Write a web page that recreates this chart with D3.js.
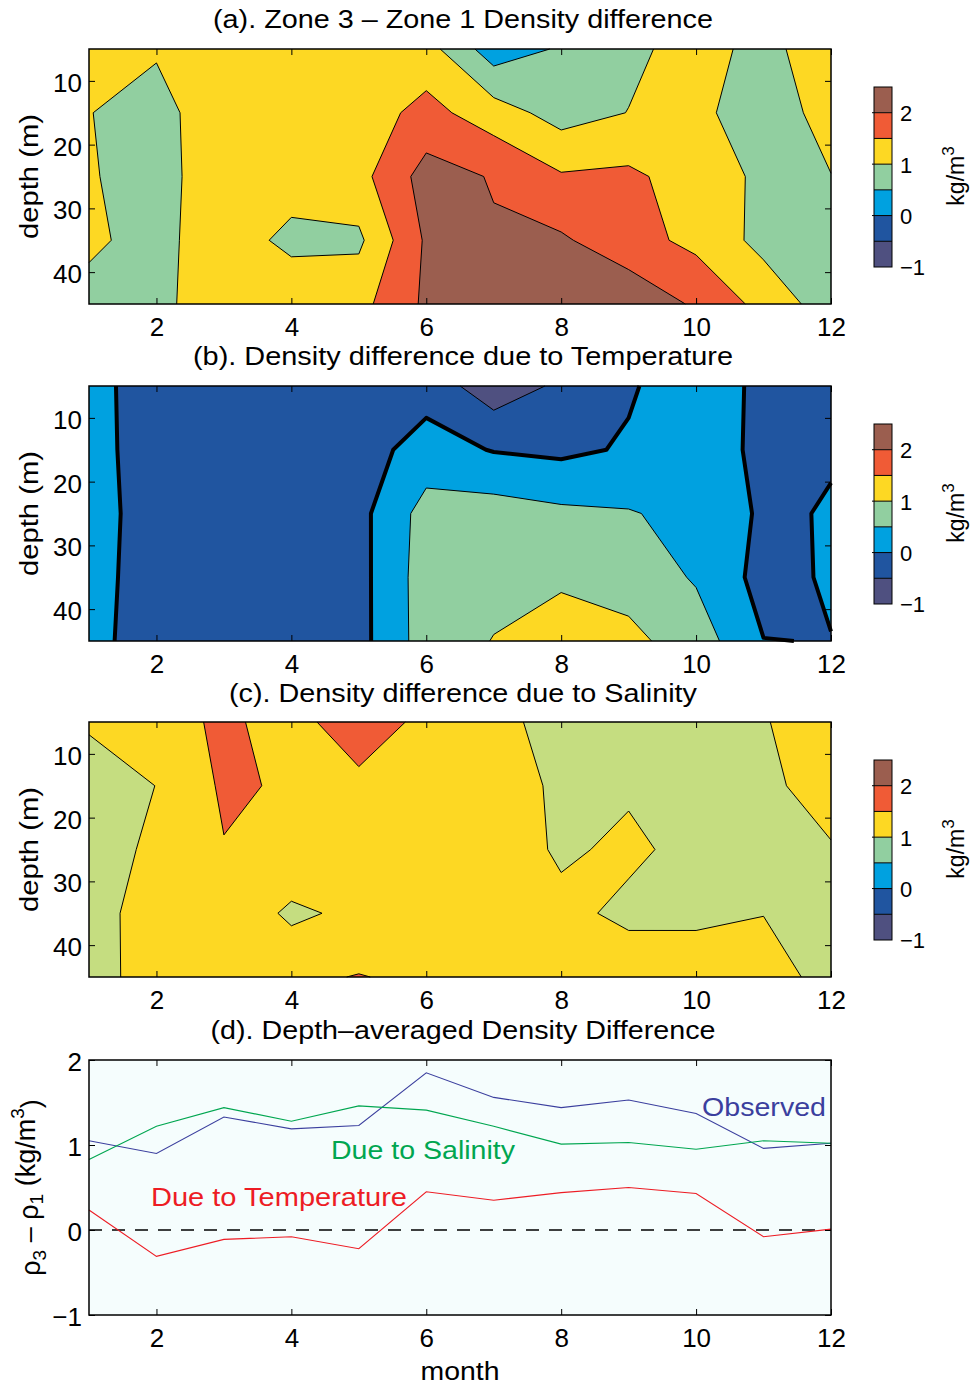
<!DOCTYPE html>
<html><head><meta charset="utf-8">
<script src="https://cdn.jsdelivr.net/npm/d3@7"></script>
<style>
body{margin:0;background:#fff}
svg{display:block;background:#fff}
text{font-family:"Liberation Sans",Arial,Helvetica,sans-serif}
</style>
</head><body>
<svg id="chart" width="971" height="1387"></svg>
<script>
// ---------------- data ----------------
const months = [1,2,3,4,5,6,7,8,9,10,11,12];
const depths = [5,15,25,35,45];
// rows = depth (5,15,25,35,45 m), columns = month 1..12
const zoneDiff = [
  [1.2, 1.042, 1.2, 1.2, 1.2, 1.2, 0.23, 0.555, 0.893, 1.183, 0.85, 1.30],
  [1.01, 0.85, 1.279, 1.25, 1.24, 1.659, 1.24, 0.796, 1.01, 1.15, 0.65, 1.243],
  [1.029, 0.85, 1.245, 1.255, 1.33, 2.2, 1.965, 1.55, 1.60, 1.267, 0.901, 0.987],
  [1.074, 0.85, 1.291, 0.857, 0.907, 2.07, 2.05, 2.067, 1.695, 1.37, 0.849, 0.85],
  [0.863, 0.85, 1.35, 1.407, 1.34, 2.09, 2.3, 2.4, 2.358, 1.932, 1.34, 0.733]
];
const tempDiff = [
  [0.24, -0.36, -0.15, -0.12, -0.3, -0.2075, -0.79, -0.408, -0.052, 0.273, -0.11, -0.2],
  [0.24, -0.331, -0.12, -0.1, -0.216, 0.2075, -0.027, -0.106, 0.052, 0.3, -0.135, -0.0325],
  [0.24, -0.271, -0.1, -0.08, -0.152, 0.695, 0.73, 0.6, 0.534, 0.355, -0.073, 0.03],
  [0.24, -0.318, -0.08, -0.06, -0.164, 0.745, 0.85, 0.9, 0.807, 0.45, -0.175, 0.0615],
  [0.24, -0.392, -0.1, -0.05, -0.164, 0.733, 1.017, 1.317, 1.123, 0.761, 0.009, -0.011]
];
const saltDiff = [
  [1.05, 1.2, 1.629, 1.226, 1.947, 1.299, 1.118, 0.85, 0.85, 0.8, 0.97, 1.27],
  [0.8, 1.005, 1.574, 1.442, 1.308, 1.42, 1.27, 0.9, 0.937, 0.8, 0.9, 1.194],
  [0.75, 1.107, 1.478, 1.43, 1.4, 1.45, 1.3, 0.925, 1.096, 0.85, 0.95, 0.966],
  [0.75, 1.293, 1.4, 0.9, 1.12, 1.45, 1.2, 1.133, 0.887, 0.9, 0.99, 0.9],
  [0.75, 1.282, 1.2, 1.409, 1.52, 1.402, 1.2, 1.2, 1.306, 1.27, 1.2, 0.843]
];
const observedAvg    = [1.05, 0.90, 1.33, 1.19, 1.23, 1.85, 1.56, 1.44, 1.53, 1.37, 0.96, 1.02];
const salinityAvg    = [0.83, 1.22, 1.44, 1.28, 1.46, 1.41, 1.22, 1.01, 1.03, 0.95, 1.05, 1.02];
const temperatureAvg = [0.235, -0.31, -0.11, -0.08, -0.22, 0.45, 0.35, 0.44, 0.50, 0.43, -0.08, 0.01];

const levels = [-0.5, 0, 0.5, 1, 1.5, 2];
const cbEdges = [-1, -0.5, 0, 0.5, 1, 1.5, 2, 2.5];
const monthTicks = [2,4,6,8,10,12];
const depthTicks = [10,20,30,40];
const cbTicks = [-1,0,1,2];
const avgTicks = [-1,0,1,2];
const titles = [
  "(a). Zone 3 \u2013 Zone 1 Density difference",
  "(b). Density difference due to Temperature",
  "(c). Density difference due to Salinity",
  "(d). Depth\u2013averaged Density Difference"
];

// ---------------- style ----------------
const FONT = '"Liberation Sans", Arial, Helvetica, sans-serif';
const C = {purple:"#4f5080", blue:"#2055a0", cyan:"#00a1e0", green:"#91cfa0",
           yellow:"#fdd823", red:"#f05b36", brown:"#9b5e4f", lime:"#c5dd80"};
const stdBands = [C.purple, C.blue, C.cyan, C.green, C.yellow, C.red, C.brown];
const saltBands = [C.purple, C.blue, C.cyan, C.lime, C.yellow, C.red, C.brown];
const fmt = d3.format("d");

const svg = d3.select("#chart");
const x = d3.scaleLinear().domain([1, 12]).range([89, 831]);
const panelTops = [49, 386, 722];
const panelH = 255;

function styleAxis(sel, fs) {
  sel.select(".domain").remove();
  sel.attr("font-family", null).attr("font-size", null);
  sel.selectAll("line").attr("stroke", "#000").attr("stroke-width", 1);
  sel.selectAll("text").attr("font-size", fs || 26).attr("fill", "#000").style("font-family", FONT);
}

function frame(y, yTicks, top, bottom) {
  const g = svg.append("g");
  g.append("g").attr("transform", `translate(0,${bottom})`)
    .call(d3.axisBottom(x).tickValues(monthTicks).tickSizeInner(-6).tickSizeOuter(0).tickPadding(14).tickFormat(fmt))
    .call(s => styleAxis(s));
  g.append("g").attr("transform", `translate(0,${top})`)
    .call(d3.axisTop(x).tickValues(monthTicks).tickSizeInner(-6).tickSizeOuter(0).tickFormat(() => ""))
    .call(s => styleAxis(s));
  g.append("g").attr("transform", `translate(${x(1)},0)`)
    .call(d3.axisLeft(y).tickValues(yTicks).tickSizeInner(-6).tickSizeOuter(0).tickPadding(7).tickFormat(fmt))
    .call(s => styleAxis(s))
    .selectAll("text").attr("dy", "0.4em");
  g.append("g").attr("transform", `translate(${x(12)},0)`)
    .call(d3.axisRight(y).tickValues(yTicks).tickSizeInner(-6).tickSizeOuter(0).tickFormat(() => ""))
    .call(s => styleAxis(s));
  g.append("rect").attr("x", x(1)).attr("y", top).attr("width", x(12) - x(1)).attr("height", bottom - top)
    .attr("fill", "none").attr("stroke", "#000").attr("stroke-width", 1.5);
}

// invert: build the filled bands from the low side (resolves ambiguous saddle cells
// toward the high values, as in the reference panel)
function contourPanel(grid, top, bands, thickLevel, invert) {
  const nx = months.length, ny = depths.length;
  const y = d3.scaleLinear().domain([depths[0], depths[ny - 1]]).range([top, top + panelH]);
  const gm = d3.scaleLinear().domain([0.5, nx - 0.5]).range([months[0], months[nx - 1]]);
  const gd = d3.scaleLinear().domain([0.5, ny - 0.5]).range([depths[0], depths[ny - 1]]);
  const cx = v => Math.min(Math.max(v, 0.5), nx - 0.5);
  const cy = v => Math.min(Math.max(v, 0.5), ny - 0.5);
  const px = p => [x(gm(p[0])), y(gd(p[1]))];
  const sign = invert ? -1 : 1;
  const order = invert ? levels.slice().reverse() : levels.slice();
  const values = grid.flat().map(v => sign * v);
  const contours = d3.contours().size([nx, ny]).thresholds(order.map(t => sign * t))(values);
  contours.forEach((c, k) => { c.level = order[k]; });
  const g = svg.append("g");
  g.append("rect").attr("x", x(1)).attr("y", top).attr("width", x(12) - x(1)).attr("height", panelH)
    .attr("fill", invert ? bands[bands.length - 1] : bands[0]);
  contours.forEach(c => {
    const d = c.coordinates.map(poly => poly.map(ring =>
      "M" + ring.map(p => px([cx(p[0]), cy(p[1])]).join(",")).join("L") + "Z").join("")).join("");
    const li = levels.indexOf(c.level);
    if (d) g.append("path").attr("d", d).attr("fill", invert ? bands[li] : bands[li + 1]).attr("fill-rule", "evenodd");
  });
  const lineFor = c => {
    let d = "";
    c.coordinates.forEach(poly => poly.forEach(ring => {
      const pts = ring.map(p => [cx(p[0]), cy(p[1])]);
      let pen = false;
      for (let k = 1; k < pts.length; k++) {
        const a = pts[k - 1], b = pts[k];
        const edge = (a[0] === 0.5 && b[0] === 0.5) || (a[0] === nx - 0.5 && b[0] === nx - 0.5) ||
                     (a[1] === 0.5 && b[1] === 0.5) || (a[1] === ny - 0.5 && b[1] === ny - 0.5);
        if (edge) { pen = false; continue; }
        if (!pen) d += "M" + px(a).join(",");
        d += "L" + px(b).join(",");
        pen = true;
      }
    }));
    return d;
  };
  contours.filter(c => c.level !== thickLevel).forEach(c => {
    const d = lineFor(c);
    if (d) g.append("path").attr("d", d).attr("fill", "none").attr("stroke", "#000")
      .attr("stroke-width", 1).attr("stroke-linejoin", "round");
  });
  contours.filter(c => c.level === thickLevel).forEach(c => {
    const d = lineFor(c);
    if (d) g.append("path").attr("d", d).attr("fill", "none").attr("stroke", "#000")
      .attr("stroke-width", 4).attr("stroke-linejoin", "round");
  });
  frame(y, depthTicks, top, top + panelH);
  svg.append("text").attr("transform", `translate(38,${top + panelH / 2}) rotate(-90)`)
    .attr("text-anchor", "middle").attr("font-size", 26).attr("textLength", 125)
    .attr("lengthAdjust", "spacingAndGlyphs").text("depth (m)");
}

function colorbar(top) {
  const cb = d3.scaleLinear().domain([-1, 2.5]).range([top + 218, top + 38]);
  const g = svg.append("g");
  for (let i = 0; i < cbEdges.length - 1; i++) {
    g.append("rect").attr("x", 874).attr("width", 18)
      .attr("y", cb(cbEdges[i + 1])).attr("height", cb(cbEdges[i]) - cb(cbEdges[i + 1]))
      .attr("fill", stdBands[i]);
  }
  cbEdges.slice(1, -1).forEach(v => {
    const isTick = cbTicks.includes(v);
    g.append("line").attr("x1", isTick ? 872 : 874).attr("x2", 892)
      .attr("y1", cb(v)).attr("y2", cb(v)).attr("stroke", "#000").attr("stroke-width", 1);
  });
  g.append("rect").attr("x", 874).attr("y", cb(2.5)).attr("width", 18).attr("height", cb(-1) - cb(2.5))
    .attr("fill", "none").attr("stroke", "#000").attr("stroke-width", 1);
  const ax = g.append("g").attr("transform", "translate(892,0)")
    .call(d3.axisRight(cb).tickValues(cbTicks).tickSize(0).tickPadding(8).tickFormat(fmt))
    .call(s => styleAxis(s, 22));
  ax.selectAll("text").attr("dy", "0.36em");
  const t = g.append("text").attr("transform", `translate(964,${top + 127}) rotate(-90)`)
    .attr("text-anchor", "middle").attr("font-size", 23);
  t.append("tspan").text("kg/m");
  t.append("tspan").attr("dy", "-0.6em").attr("font-size", 17).text("3");
}

// ---------------- titles ----------------
const titleBase = [28, 365, 702, 1038.5];
const titleLen = [500, 540, 468, 505];
titles.forEach((tt, i) => {
  svg.append("text").attr("x", 463).attr("y", titleBase[i]).attr("text-anchor", "middle")
    .attr("font-size", 25).attr("textLength", titleLen[i]).attr("lengthAdjust", "spacingAndGlyphs").text(tt);
});

// ---------------- contour panels ----------------
contourPanel(zoneDiff, panelTops[0], stdBands, null, false);
contourPanel(tempDiff, panelTops[1], stdBands, 0, false);
contourPanel(saltDiff, panelTops[2], saltBands, null, true);
panelTops.forEach(t => colorbar(t));

// ---------------- panel (d) ----------------
const dTop = 1060, dBot = 1315;
const yd = d3.scaleLinear().domain([-1, 2]).range([dBot, dTop]);
svg.append("rect").attr("x", x(1)).attr("y", dTop).attr("width", x(12) - x(1)).attr("height", dBot - dTop)
  .attr("fill", "#f5fdfd");
svg.append("line").attr("x1", x(1)).attr("x2", x(12)).attr("y1", yd(0)).attr("y2", yd(0))
  .attr("stroke", "#000").attr("stroke-width", 1.3).attr("stroke-dasharray", "13,10");
const line = d3.line().x((d, i) => x(months[i])).y(d => yd(d));
const series = [
  {vals: observedAvg, color: "#3b3f9e"},
  {vals: salinityAvg, color: "#00a650"},
  {vals: temperatureAvg, color: "#ed1c24"}
];
series.forEach(s => {
  svg.append("path").attr("d", line(s.vals)).attr("fill", "none").attr("stroke", s.color).attr("stroke-width", 1.1);
});
frame(yd, avgTicks, dTop, dBot);

const lbl = [
  {t: "Observed", x: 702, y: 1116, len: 124, color: "#3b3f9e"},
  {t: "Due to Salinity", x: 331, y: 1159, len: 184, color: "#00a650"},
  {t: "Due to Temperature", x: 151, y: 1206, len: 256, color: "#ed1c24"}
];
lbl.forEach(l => {
  svg.append("text").attr("x", l.x).attr("y", l.y).attr("font-size", 26).attr("fill", l.color)
    .attr("textLength", l.len).attr("lengthAdjust", "spacingAndGlyphs").text(l.t);
});

const yl = svg.append("text").attr("transform", `translate(40,${(dTop + dBot) / 2}) rotate(-90)`)
  .attr("text-anchor", "middle").attr("font-size", 27);
yl.append("tspan").text("\u03c1");
yl.append("tspan").attr("dy", "0.3em").attr("font-size", 19).text("3");
yl.append("tspan").attr("dy", "-0.3em").text(" \u2013 \u03c1");
yl.append("tspan").attr("dy", "0.3em").attr("font-size", 19).text("1");
yl.append("tspan").attr("dy", "-0.3em").text("  (kg/m");
yl.append("tspan").attr("dy", "-0.6em").attr("font-size", 19).text("3");
yl.append("tspan").attr("dy", "0.6em").text(")");

svg.append("text").attr("x", 460).attr("y", 1380).attr("text-anchor", "middle").attr("font-size", 26)
  .attr("textLength", 79).attr("lengthAdjust", "spacingAndGlyphs").text("month");
</script>
</body></html>
